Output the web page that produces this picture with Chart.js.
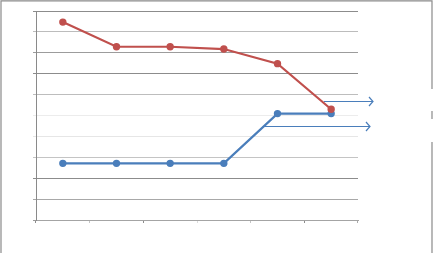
<!DOCTYPE html>
<html>
<head>
<meta charset="utf-8">
<script src="https://cdn.jsdelivr.net/npm/chart.js@4/dist/chart.umd.min.js"></script>
<style>
  html, body { margin: 0; padding: 0; background: #fff; }
  #wrap { position: relative; width: 435px; height: 253px; }
</style>
</head>
<body>
<div id="wrap"><canvas id="lineChart" width="435" height="253"></canvas></div>
<script>
// values (no labels visible in the reference)
const categories = ['1', '2', '3', '4', '5', '6'];
const redValues = [9.47, 8.29, 8.29, 8.18, 7.48, 5.3];
const blueValues = [2.71, 2.71, 2.71, 2.71, 5.09, 5.09];

// grey shades of the horizontal grid lines, from 0 up to 10
const yGridColors = ['#9a9a9a', '#a8a8a8', '#8c8c8c', '#c4c4c4', '#e6e6e6', '#ececec',
                     '#bdbdbd', '#8c8c8c', '#9c9c9c', '#bcbcbc', '#8c8c8c'];
const xTickColors = ['#8c8c8c', '#c4c4c4', '#8c8c8c', '#dcdcdc', '#c4c4c4', '#8c8c8c', '#c8c8c8'];

// outer frame and the two arrows left over from the cropped legend
const framePlugin = {
    id: 'frame',
    afterDraw(chart) {
        const ctx = chart.ctx;
        ctx.save();
        ctx.strokeStyle = '#8a8a8a';
        ctx.lineWidth = 1.2;
        ctx.beginPath();
        ctx.moveTo(1, 253); ctx.lineTo(1, 0.8); ctx.lineTo(432, 0.8); ctx.lineTo(432, 89);
        ctx.moveTo(432, 111); ctx.lineTo(432, 119);
        ctx.moveTo(432, 142); ctx.lineTo(432, 253);
        ctx.stroke();

        ctx.strokeStyle = '#4a7ebb';
        ctx.lineWidth = 1.2;
        const arrows = [[324, 101.5, 373], [263, 126.5, 370]];
        arrows.forEach(function(a) {
            ctx.beginPath();
            ctx.moveTo(a[0], a[1]); ctx.lineTo(a[2], a[1]);
            ctx.moveTo(a[2] - 4, a[1] - 4.5); ctx.lineTo(a[2], a[1]); ctx.lineTo(a[2] - 4, a[1] + 4.5);
            ctx.stroke();
        });
        ctx.restore();
    }
};

new Chart(document.getElementById('lineChart'), {
    type: 'line',
    data: {
        labels: categories,
        datasets: [
            {
                data: redValues,
                borderColor: '#c0504d',
                backgroundColor: '#c0504d',
                borderWidth: 2.2,
                pointRadius: 2.6,
                pointHoverRadius: 2.6,
                tension: 0
            },
            {
                data: blueValues,
                borderColor: '#4a7ebb',
                backgroundColor: '#4a7ebb',
                borderWidth: 2.2,
                pointRadius: 2.6,
                pointHoverRadius: 2.6,
                tension: 0
            }
        ]
    },
    options: {
        responsive: false,
        animation: false,
        layout: { padding: { left: 36, right: 77, top: 11, bottom: 33 } },
        plugins: { legend: { display: false }, tooltip: { enabled: false } },
        scales: {
            x: {
                offset: true,
                afterFit: function(scale) { scale.height = 0; },
                ticks: { display: false },
                grid: {
                    offset: true,
                    drawOnChartArea: false,
                    tickLength: 3,
                    color: function(c) { return xTickColors[c.index] || '#aaa'; }
                },
                border: { color: '#a4a4a4', width: 1 }
            },
            y: {
                min: 0,
                max: 10,
                afterFit: function(scale) { scale.width = 0; },
                ticks: { display: false, stepSize: 1 },
                grid: {
                    tickLength: 3,
                    lineWidth: 1,
                    color: function(c) { return yGridColors[c.index] || '#aaa'; }
                },
                border: { color: '#8a8a8a', width: 1 }
            }
        }
    },
    plugins: [framePlugin]
});
</script>
</body>
</html>
